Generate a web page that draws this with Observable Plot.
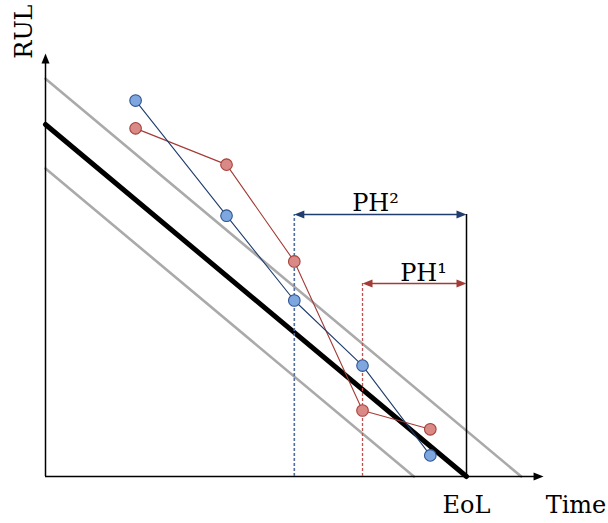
<!DOCTYPE html>
<html>
<head>
<meta charset="utf-8">
<script src="https://cdn.jsdelivr.net/npm/d3@7"></script>
<script src="https://cdn.jsdelivr.net/npm/@observablehq/plot@0.6"></script>
<style>
  html, body { margin: 0; padding: 0; background: #fff; }
</style>
</head>
<body>
<div id="chart"></div>
<script>
// Time axis (EoL = 100) and RUL axis values
const times = [21.4, 43.0, 59.1, 75.3, 91.4];
const rulBlue = [106.8, 74.1, 50.0, 31.5, 6.0];   // prediction 2 (blue)
const rulRed  = [98.9, 88.6, 61.1, 18.75, 13.4];  // prediction 1 (red)

const trueT = [0, 100], trueRUL = [100, 0];        // ground-truth RUL
const upperT = [0, 113], upperRUL = [113, 0];      // upper bound
const lowerT = [0, 87.5], lowerRUL = [87.5, 0];    // lower bound

const eol = 100;
const ph2Start = 59.1, ph2Level = 74.4;            // PH^2
const ph1Start = 75.3, ph1Level = 54.8;            // PH^1
const axisXEnd = 118.3, axisYEnd = 120.2;

const labels = [
  {text: "RUL", t: -5.0, r: 126.4, rotate: -90, anchor: "middle", line: "middle"},
  {text: "Time", t: 118.8, r: -10.4, rotate: 0, anchor: "start", line: "bottom"},
  {text: "EoL", t: 100, r: -10.4, rotate: 0, anchor: "middle", line: "bottom"}
];
const phLabels = [
  {text: "PH²", t: 78.4, r: 75.3},
  {text: "PH¹", t: 89.8, r: 55.6}
];

const blue = "#1f3d6e", blueFill = "#7ea7e0", blueStroke = "#2e5593";
const red = "#a33b36", redFill = "#d98a86", redStroke = "#a8413c";

const toRows = (ts, rs) => ts.map((t, i) => ({t, r: rs[i]}));

function head(dir) {
  return {
    draw(ctx, size) {
      const s = Math.sqrt(size / Math.PI);
      const L = 2.5 * s, W = s;
      if (dir === "right") { ctx.moveTo(0, 0); ctx.lineTo(-L, -W); ctx.lineTo(-L, W); }
      if (dir === "left")  { ctx.moveTo(0, 0); ctx.lineTo(L, -W); ctx.lineTo(L, W); }
      if (dir === "up")    { ctx.moveTo(0, 0); ctx.lineTo(-W, L); ctx.lineTo(W, L); }
      ctx.closePath();
    }
  };
}

const chart = Plot.plot({
  width: 608,
  height: 523,
  style: {fontFamily: "DejaVu Serif", background: "#fff", overflow: "visible"},
  x: {domain: [0, 100], range: [45, 466], axis: null},
  y: {domain: [0, 100], range: [476, 124], axis: null},
  marks: [
    // bounds
    Plot.line(toRows(upperT, upperRUL), {x: "t", y: "r", stroke: "#aaaaaa", strokeWidth: 2.6}),
    Plot.line(toRows(lowerT, lowerRUL), {x: "t", y: "r", stroke: "#aaaaaa", strokeWidth: 2.6}),
    // axes
    Plot.ruleY([0], {x1: 0, x2: axisXEnd - 2, stroke: "black", strokeWidth: 1.5}),
    Plot.ruleX([0], {y1: 0, y2: axisYEnd - 2, stroke: "black", strokeWidth: 1.5}),
    Plot.dot([{t: axisXEnd, r: 0}], {x: "t", y: "r", symbol: head("right"), r: 4, fill: "black", stroke: "none"}),
    Plot.dot([{t: 0, r: axisYEnd}], {x: "t", y: "r", symbol: head("up"), r: 4, fill: "black", stroke: "none"}),
    // true RUL
    Plot.line(toRows(trueT, trueRUL), {x: "t", y: "r", stroke: "black", strokeWidth: 5}),
    // EoL vertical
    Plot.ruleX([eol], {y1: 0, y2: ph2Level, stroke: "black", strokeWidth: 1.5}),
    // dashed verticals
    Plot.ruleX([ph2Start], {y1: 0, y2: ph2Level, stroke: "#4f6fa0", strokeWidth: 1.6, strokeDasharray: "3,2"}),
    Plot.ruleX([ph1Start], {y1: 0, y2: ph1Level, stroke: "#c0504d", strokeWidth: 1.3, strokeDasharray: "3,2"}),
    // PH arrows
    Plot.ruleY([ph2Level], {x1: ph2Start + 1.5, x2: eol - 1.5, stroke: blue, strokeWidth: 1.5}),
    Plot.dot([{t: ph2Start, r: ph2Level}], {x: "t", y: "r", symbol: head("left"), r: 4, fill: blue, stroke: "none"}),
    Plot.dot([{t: eol, r: ph2Level}], {x: "t", y: "r", symbol: head("right"), r: 4, fill: blue, stroke: "none"}),
    Plot.ruleY([ph1Level], {x1: ph1Start + 1.5, x2: eol - 1.5, stroke: red, strokeWidth: 1.5}),
    Plot.dot([{t: ph1Start, r: ph1Level}], {x: "t", y: "r", symbol: head("left"), r: 4, fill: red, stroke: "none"}),
    Plot.dot([{t: eol, r: ph1Level}], {x: "t", y: "r", symbol: head("right"), r: 4, fill: red, stroke: "none"}),
    // predictions
    Plot.line(toRows(times, rulRed), {x: "t", y: "r", stroke: red, strokeWidth: 1.1}),
    Plot.line(toRows(times, rulBlue), {x: "t", y: "r", stroke: blue, strokeWidth: 1.1}),
    Plot.dot(toRows(times, rulRed), {x: "t", y: "r", r: 5.8, fill: redFill, stroke: redStroke, strokeWidth: 1.1}),
    Plot.dot(toRows(times, rulBlue), {x: "t", y: "r", r: 5.8, fill: blueFill, stroke: blueStroke, strokeWidth: 1.1}),
    // labels
    Plot.text(labels, {x: "t", y: "r", text: "text", textAnchor: "start",
      fontSize: 24, fill: "black", filter: d => d.anchor === "start", lineAnchor: "bottom"}),
    Plot.text(labels, {x: "t", y: "r", text: "text", textAnchor: "middle",
      fontSize: 24, fill: "black", filter: d => d.anchor === "middle" && d.rotate === 0, lineAnchor: "bottom"}),
    Plot.text(labels, {x: "t", y: "r", text: "text", rotate: -90, textAnchor: "middle",
      fontSize: 24, fill: "black", filter: d => d.rotate === -90, lineAnchor: "middle"}),
    Plot.text(phLabels, {x: "t", y: "r", text: "text", textAnchor: "middle",
      fontSize: 24, fill: "black", lineAnchor: "bottom"})
  ]
});
document.getElementById("chart").appendChild(chart);
</script>
</body>
</html>
